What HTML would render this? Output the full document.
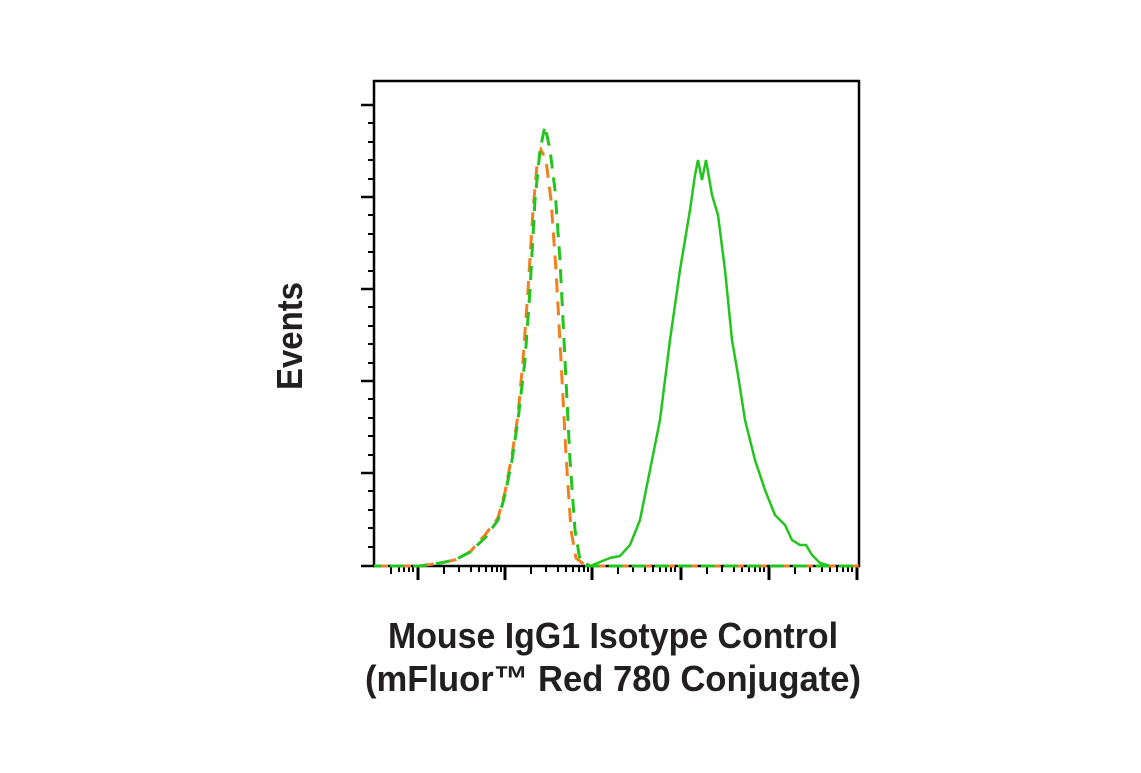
<!DOCTYPE html><html><head><style>body{margin:0;background:#fff}</style></head><body>
<svg width="1141" height="768" xmlns="http://www.w3.org/2000/svg">
<rect width="1141" height="768" fill="#fff"/>
<defs><path id="mt" stroke="#000" stroke-width="2" d="M26 566V574M41 566V572M53 566V572M61 566V572M68 566V572M74 566V572M79 566V572M83 566V572"/></defs>
<g stroke="#000" stroke-width="2.5" fill="none">
<rect x="374" y="81" width="485" height="485"/>
<path d="M361 105H374M361 197H374M361 289H374M361 381H374M361 473H374M361 566H374"/>
<path stroke-width="2" d="M368 123H374M368 142H374M368 160H374M368 179H374M368 215H374M368 234H374M368 252H374M368 271H374M368 307H374M368 326H374M368 344H374M368 363H374M368 399H374M368 418H374M368 436H374M368 455H374M368 491H374M368 510H374M368 528H374M368 547H374"/>
<path stroke-width="3" d="M418 566V580M505 566V580M592 566V580M681 566V580M769 566V580M857 566V580"/>
<path stroke-width="2" d="M391 566V574M399 566V572M404 566V572M409 566V572M413 566V572"/>
</g>
<use href="#mt" x="418"/><use href="#mt" x="505"/><use href="#mt" x="592"/><use href="#mt" x="681"/><use href="#mt" x="769"/>
<g fill="none" stroke-width="3">
<path stroke="#22c41e" stroke-width="2.5" d="M585 566L590 566 600 562 610 558 620 556 630 545 640 520 650 470 660 420 670 340 680 270 690 210 695 175 698 160 702 180 706 160 712 195 718 215 725 270 732 340 738 375 745 420 755 460 765 490 775 515 785 525 792 540 800 545 806 545 812 555 820 563 830 566"/>
<path stroke="#f08020" stroke-dasharray="14,9" d="M374 566L420 566 440 563 455 560 470 552 485 535 498 518 505 492 512 455 518 415 523 360 528 290 533 210 537 165 541 150 546 160 551 200 556 270 561 360 566 455 571 530 576 558 586 566 859 566"/>
<path stroke="#22c41e" stroke-dasharray="14,9" stroke-dashoffset="7" d="M374 566L420 566 440 563 455 560 470 552 485 538 498 520 505 495 512 460 518 420 525 360 530 290 535 200 540 150 545 126 550 150 555 190 560 260 565 360 570 460 575 530 580 560 590 566 859 566"/>
</g>
<g font-family="Liberation Sans, sans-serif" font-weight="bold" fill="#231f20" font-size="36">
<text transform="translate(302,336) rotate(-90)" text-anchor="middle" textLength="108" lengthAdjust="spacingAndGlyphs">Events</text>
<text x="613" y="648" text-anchor="middle" textLength="450" lengthAdjust="spacingAndGlyphs">Mouse IgG1 Isotype Control</text>
<text x="613" y="691" text-anchor="middle" textLength="496" lengthAdjust="spacingAndGlyphs">(mFluor™ Red 780 Conjugate)</text>
</g>
</svg>
</body></html>
